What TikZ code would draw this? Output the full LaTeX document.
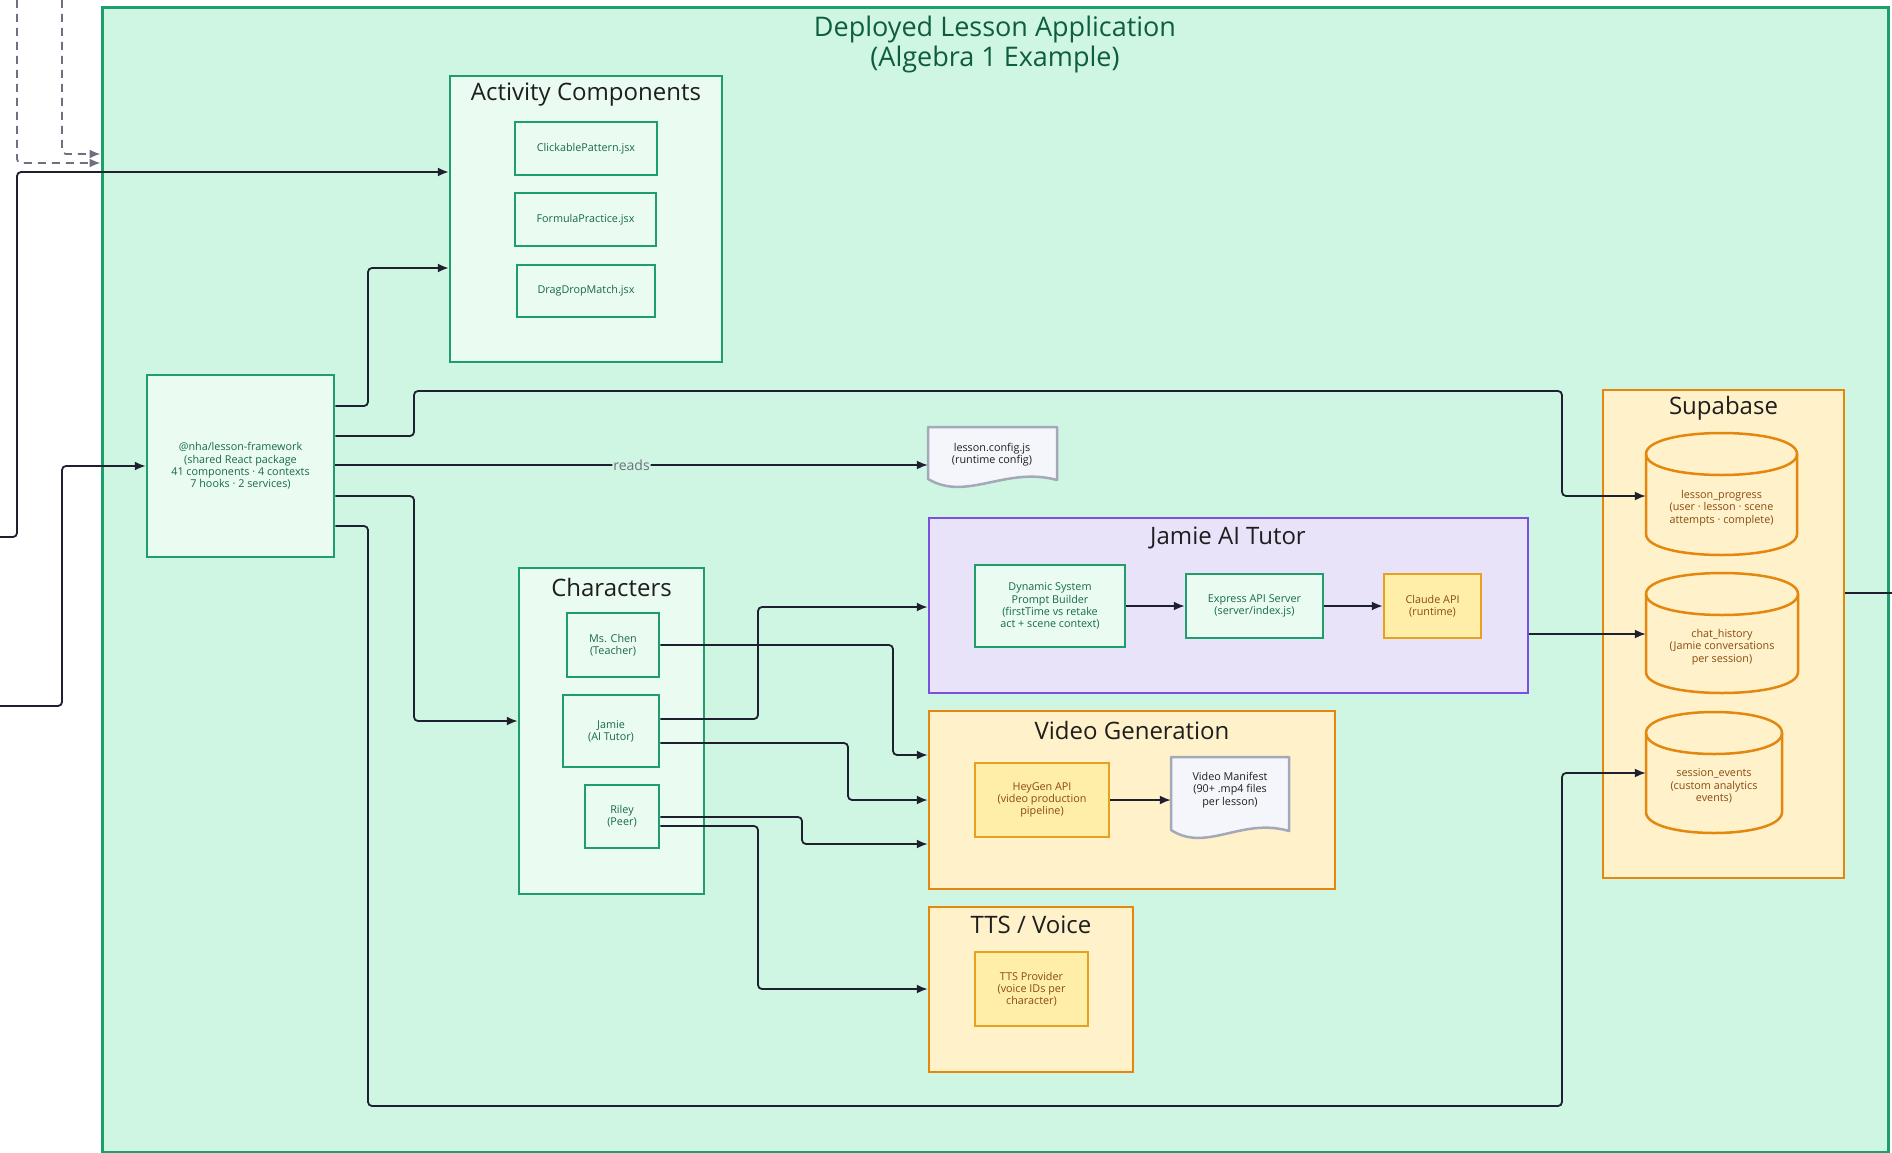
\documentclass[tikz,border=0pt]{standalone}
\usepackage{fontspec}
\setmainfont{Open Sans}
\usetikzlibrary{arrows.meta,calc}
\definecolor{appfill}{HTML}{CFF6E2}
\definecolor{gstroke}{HTML}{1E9E6A}
\definecolor{gfill}{HTML}{EAFBF2}
\definecolor{gtext}{HTML}{17694A}
\definecolor{apptitle}{HTML}{0E5E3E}
\definecolor{pstroke}{HTML}{7B4FE0}
\definecolor{pfill}{HTML}{E9E3FA}
\definecolor{ostroke}{HTML}{E3870E}
\definecolor{ofill}{HTML}{FFF1C9}
\definecolor{ystroke}{HTML}{E6A21E}
\definecolor{yfill}{HTML}{FFEEA8}
\definecolor{btext}{HTML}{8A4A12}
\definecolor{dstroke}{HTML}{A3A9B8}
\definecolor{dfill}{HTML}{F4F6FB}
\definecolor{ccol}{HTML}{1E2030}
\definecolor{dcol}{HTML}{6E7080}
\definecolor{tcol}{HTML}{1E1E1E}
\newcommand\smfont{\fontsize{10.8}{12.2}\selectfont}
\newcommand\grpfont{\fontsize{24}{27}\selectfont}
% document shape: name, L, T, R, B
\newcommand\docshape[5]{%
  \path[draw=dstroke, fill=dfill, line width=2.5pt, line join=round]
    (#2,#3) -- (#4,#3) -- (#4,#5-12)
    .. controls ({#2+0.6*(#4-#2)},#5-26) and ({#2+0.3*(#4-#2)},#5+10) .. (#2,#5-13) -- cycle;
  \node[inner sep=0pt, minimum width={(#4-#2)*1pt}, minimum height={(#5-#3)*1pt}] (#1) at ({(#2+#4)/2},{(#3+#5)/2}) {};
}
% cylinder: name, L, T, R, B
\newcommand\dbcyl[5]{%
  \path[draw=ostroke, fill=ofill, line width=2.5pt]
    (#2,#3+21) -- (#2,#5-21) .. controls (#2,#5+7) and (#4,#5+7) .. (#4,#5-21)
    -- (#4,#3+21) .. controls (#4,#3-7) and (#2,#3-7) .. (#2,#3+21) -- cycle;
  \draw[ostroke, line width=2.5pt] (#2,#3+21) .. controls (#2,#3+49) and (#4,#3+49) .. (#4,#3+21);
  \node[inner sep=0pt, minimum width={(#4-#2)*1pt}, minimum height={(#5-#3)*1pt}] (#1) at ({(#2+#4)/2},{(#3+#5)/2}) {};
}
\begin{document}
\begin{tikzpicture}[x=1pt,y=-1pt,
  grp/.style={draw=gstroke, fill=gfill, line width=2.5pt, inner sep=0pt},
  gnode/.style={draw=gstroke, fill=gfill, line width=2.5pt, inner sep=0pt, align=center, text=gtext, font=\smfont},
  pgrp/.style={draw=pstroke, fill=pfill, line width=2.5pt, inner sep=0pt},
  ogrp/.style={draw=ostroke, fill=ofill, line width=2.5pt, inner sep=0pt},
  ynode/.style={draw=ystroke, fill=yfill, line width=2.5pt, inner sep=0pt, align=center, text=btext, font=\smfont},
  grptitle/.style={font=\grpfont, text=tcol, inner sep=0pt},
  cyltext/.style={align=center, text=btext, font=\smfont, inner sep=0pt},
  doctext/.style={align=center, text=tcol, font=\smfont, inner sep=0pt},
  conn/.style={draw=ccol, line width=1.8pt, rounded corners=4pt, -{Latex[length=11pt,width=9pt]}},
  dconn/.style={draw=dcol, line width=1.8pt, dash pattern=on 8pt off 6pt, rounded corners=4pt, -{Latex[length=11pt,width=9pt]}},
  plainline/.style={draw=ccol, line width=1.8pt, rounded corners=4pt},
  readlbl/.style={fill=appfill, text=dcol, font=\fontsize{14}{16}\selectfont, inner sep=1pt},
]
\useasboundingbox (0,0) rectangle (1892,1153);
\fill[white] (0,0) rectangle (1892,1153);

% outer application box
\node[draw=gstroke, fill=appfill, line width=3pt, inner sep=0pt, minimum width=1786pt, minimum height=1144pt] (app) at (995,580) {};
\node[align=center, text=apptitle, font=\fontsize{27}{30}\selectfont, inner sep=0pt] (apptitle) at (995,44) {Deployed Lesson Application\\(Algebra 1 Example)};

% Activity Components
\node[grp, minimum width=272pt, minimum height=286pt] (act) at (586,219) {};
\node[grptitle] (acttitle) at (586,95) {Activity Components};
\node[gnode, minimum width=142pt, minimum height=53pt] (cp) at (586,148.5) {ClickablePattern.jsx};
\node[gnode, minimum width=141pt, minimum height=53pt] (fp) at (585.5,219.5) {FormulaPractice.jsx};
\node[gnode, minimum width=138pt, minimum height=52pt] (dd) at (586,291) {DragDropMatch.jsx};

% framework
\node[gnode, minimum width=187pt, minimum height=182pt] (fw) at (240.5,466) {@nha/lesson-framework\\(shared React package\\41 components · 4 contexts\\7 hooks · 2 services)};

% lesson config document
\docshape{cfg}{928}{427}{1057}{492}
\node[doctext] (cfgt) at (992,455) {lesson.config.js\\(runtime config)};

% Jamie AI Tutor
\node[pgrp, minimum width=599pt, minimum height=175pt] (jat) at (1228.5,605.5) {};
\node[grptitle] (jattitle) at (1228,538) {Jamie AI Tutor};
\node[gnode, minimum width=150pt, minimum height=82pt] (dsp) at (1050,606) {Dynamic System\\Prompt Builder\\(firstTime vs retake\\act + scene context)};
\node[gnode, minimum width=137pt, minimum height=64pt] (exp) at (1254.5,606) {Express API Server\\(server/index.js)};
\node[ynode, minimum width=97pt, minimum height=64pt] (cla) at (1432.5,606) {Claude API\\(runtime)};

% Characters
\node[grp, minimum width=185pt, minimum height=326pt] (chr) at (611.5,731) {};
\node[grptitle] (chrtitle) at (611.5,587) {Characters};
\node[gnode, minimum width=92pt, minimum height=64pt] (chen) at (613,645) {Ms. Chen\\(Teacher)};
\node[gnode, minimum width=96pt, minimum height=72pt] (jamie) at (611,731) {Jamie\\(AI Tutor)};
\node[gnode, minimum width=74pt, minimum height=63pt] (riley) at (622,816.5) {Riley\\(Peer)};

% Video Generation
\node[ogrp, minimum width=406pt, minimum height=178pt] (vg) at (1132,800) {};
\node[grptitle] (vgtitle) at (1132,730) {Video Generation};
\node[ynode, minimum width=134pt, minimum height=74pt] (hey) at (1042,800) {HeyGen API\\(video production\\pipeline)};
\docshape{man}{1171}{757}{1289}{843}
\node[doctext] (mant) at (1230,790) {Video Manifest\\(90+ .mp4 files\\per lesson)};

% TTS / Voice
\node[ogrp, minimum width=204pt, minimum height=165pt] (tts) at (1031,989.5) {};
\node[grptitle] (ttstitle) at (1031,925) {TTS / Voice};
\node[ynode, minimum width=113pt, minimum height=74pt] (ttsp) at (1031.5,989) {TTS Provider\\(voice IDs per\\character)};

% Supabase
\node[ogrp, minimum width=241pt, minimum height=488pt] (sb) at (1723.5,634) {};
\node[grptitle] (sbtitle) at (1723.5,408) {Supabase};
\dbcyl{lp}{1646}{433}{1797}{555}
\node[cyltext] (lpt) at (1721.5,508) {lesson\_progress\\(user · lesson · scene\\attempts · complete)};
\dbcyl{ch}{1646}{573}{1798}{693}
\node[cyltext] (cht) at (1722,647) {chat\_history\\(Jamie conversations\\per session)};
\dbcyl{se}{1646}{712}{1782}{833}
\node[cyltext] (set) at (1714,786) {session\_events\\(custom analytics\\events)};

% free ends outside the application box
\coordinate (inA) at (0,537);
\coordinate (inB) at (0,706);
\coordinate (dA) at (17,0);
\coordinate (dB) at (62,0);
\coordinate (outR) at (1892,593);

% incoming connectors
\draw[dconn] (dB) -- (62,154) -- (app.west |- 0,154);
\draw[dconn] (dA) -- (17,163) -- (app.west |- 0,163);
\draw[conn] (inA) -- (17,537) -- (17,172) -- (act.west |- 0,172);
\draw[conn] (inB) -- (62,706) -- (62,466) -- (fw.west |- 0,466);

% framework outgoing
\draw[conn] (fw.east |- 0,406) -- (368,406) -- (368,268) -- (act.west |- 0,268);
\draw[conn] (fw.east |- 0,436) -- (414,436) -- (414,391) -- (1562,391) -- (1562,496) -- (lp.west |- 0,496);
\draw[conn] (fw.east |- 0,465) -- node[readlbl, pos=0.5] {reads} (cfg.west |- 0,465);
\draw[conn] (fw.east |- 0,496) -- (414,496) -- (414,721) -- (chr.west |- 0,721);
\draw[conn] (fw.east |- 0,526) -- (368,526) -- (368,1106) -- (1562,1106) -- (1562,773) -- (se.west |- 0,773);

% characters outgoing
\draw[conn] (chen.east |- 0,645) -- (893,645) -- (893,755) -- (vg.west |- 0,755);
\draw[conn] (jamie.east |- 0,719) -- (758,719) -- (758,607) -- (jat.west |- 0,607);
\draw[conn] (jamie.east |- 0,743) -- (848,743) -- (848,800) -- (vg.west |- 0,800);
\draw[conn] (riley.east |- 0,817) -- (802,817) -- (802,844) -- (vg.west |- 0,844);
\draw[conn] (riley.east |- 0,826) -- (758,826) -- (758,989) -- (tts.west |- 0,989);

% internal flows
\draw[conn] (dsp) -- (exp);
\draw[conn] (exp) -- (cla);
\draw[conn] (hey) -- (man);
\draw[conn] (jat.east |- 0,634) -- (ch.west |- 0,634);
\draw[plainline] (sb.east |- 0,593) -- (outR);
\end{tikzpicture}
\end{document}
